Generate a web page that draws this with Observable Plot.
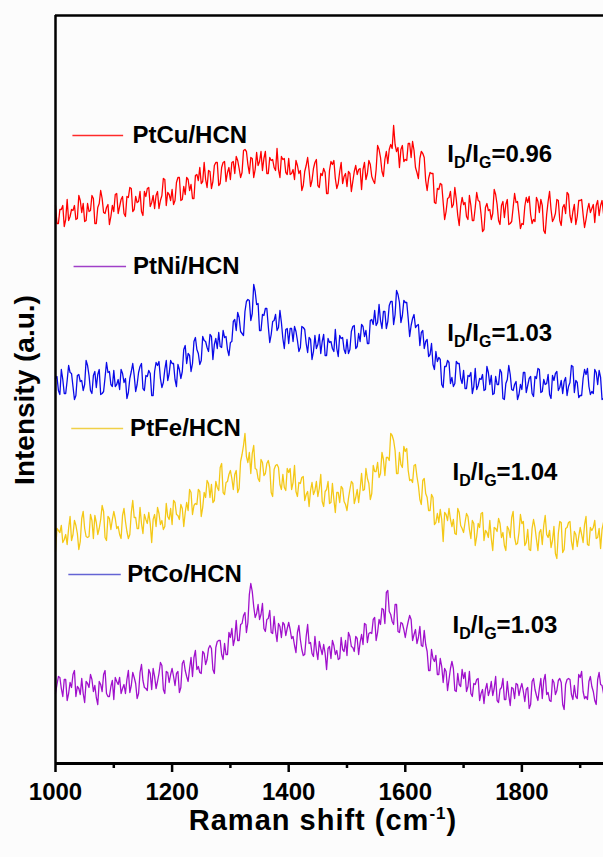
<!DOCTYPE html>
<html>
<head>
<meta charset="utf-8">
<script src="https://cdn.jsdelivr.net/npm/d3@7"></script>
<script src="https://cdn.jsdelivr.net/npm/@observablehq/plot@0.6"></script>
<style>
  html, body { margin: 0; padding: 0; background: #fcfcfc; }
  #chart svg { display: block; }
</style>
</head>
<body>
<div id="chart"></div>
<script>
// Raman spectra, sampled every 2.5 cm-1 from 1000 cm-1 (intensity in a.u., before stacking)
const shiftStart = 1000;
const shiftStep = 2.5;

const ptCu = [
  28,10,10,24,24,28,7,14,34,13,17,24,23,28,14,15,38,33,21,30,12,13,30,22,23,38,35,10,10,26,30,43,35,21,20,26,29,9,17,28,
  22,39,40,20,27,34,37,20,17,37,36,46,45,22,24,37,31,32,42,22,18,42,37,45,46,27,31,38,25,38,42,25,33,38,55,54,28,41,39,33,
  44,29,33,51,56,56,33,34,47,39,56,54,43,49,35,35,58,59,53,66,50,52,71,54,46,63,62,45,52,68,71,71,48,50,66,71,72,52,61,66,
  54,71,72,60,77,73,65,56,61,83,84,82,69,60,76,75,56,64,81,68,72,82,63,75,82,60,60,76,73,74,66,63,85,64,56,77,74,75,61,59,
  75,59,60,64,54,73,68,60,63,43,48,62,68,76,63,47,53,65,71,74,48,46,60,58,65,61,40,40,63,72,69,73,55,45,50,62,71,50,57,60,
  47,62,60,42,52,62,68,59,64,65,44,64,71,54,60,73,69,57,53,50,64,88,84,76,62,57,74,82,70,84,89,85,108,89,82,86,66,84,88,72,
  74,73,90,90,76,92,83,66,61,55,75,82,80,76,53,43,55,61,60,60,31,30,45,44,50,49,31,14,22,35,36,42,26,29,46,34,18,8,27,36,
  29,31,17,14,38,28,13,13,26,41,33,32,19,2,4,26,30,23,24,14,20,44,39,29,13,9,28,32,16,29,34,9,10,12,26,40,31,32,19,5,
  10,9,27,36,31,37,19,10,14,12,36,32,21,34,28,3,0,19,32,42,24,12,15,20,34,33,13,8,26,29,20,41,39,18,11,22,29,9,17,33,
  33,34,19,6,14,24,30,21,25,29,11,28,33,18,28,33,20
];

const ptNi = [
  24,26,12,8,33,23,9,9,22,37,30,29,16,3,7,27,28,21,22,12,18,42,37,27,12,9,27,31,15,28,33,8,9,11,25,40,30,31,18,16,
  32,16,18,23,13,33,29,20,24,4,10,24,31,39,27,11,18,30,36,39,14,12,27,26,32,29,7,7,31,40,37,41,24,15,20,33,42,22,29,42,
  39,39,23,16,38,33,24,31,53,57,39,49,47,31,39,61,65,53,49,38,42,66,62,61,55,51,68,66,43,58,64,54,70,56,55,72,65,66,53,47,
  60,61,81,83,72,90,85,71,69,67,91,101,103,102,82,89,118,111,98,99,72,72,88,87,94,94,76,60,68,81,82,88,72,75,92,80,64,54,73,74,
  59,74,74,61,76,71,62,51,55,76,75,73,59,50,65,63,43,51,67,54,58,68,49,61,68,47,47,64,60,61,54,51,73,54,46,67,64,65,53,49,
  63,49,53,71,76,77,54,56,69,61,78,76,66,72,59,59,82,83,78,92,77,80,98,82,74,91,91,74,81,97,101,101,78,88,112,108,100,80,87,102,
  100,100,84,66,77,84,88,75,77,78,57,70,72,54,61,63,46,48,59,38,33,51,41,45,43,18,15,36,36,42,40,19,25,16,19,41,39,39,24,19,
  32,14,14,27,26,30,9,16,34,13,17,24,23,28,12,13,36,30,18,27,8,9,26,18,18,33,30,4,3,19,23,37,28,13,12,18,21,3,8,18,
  13,30,30,10,17,24,26,9,6,26,24,34,33,10,11,23,18,19,28,8,4,27,22,29,31,12,15,22,9,21,25,7,16,20,37,36,10,22,20,5,
  7,7,24,33,28,34,16,8,11,9,33,30,18,32,25,3,4
];

const ptFe = [
  6,29,27,25,32,15,18,23,13,29,41,17,23,37,32,24,8,16,39,46,29,21,20,21,43,37,19,42,35,23,29,38,52,46,20,17,41,39,28,38,
  46,39,29,31,23,19,42,49,36,26,19,23,45,57,40,40,29,29,50,34,24,43,38,34,45,34,15,38,43,31,50,44,33,37,28,31,54,41,38,49,
  33,57,55,43,42,38,53,49,31,45,55,47,68,65,43,52,54,53,68,66,41,50,65,60,77,74,60,73,55,57,76,70,67,90,94,65,63,75,76,83,
  87,79,68,83,87,65,69,96,103,112,124,101,95,105,84,104,112,89,88,79,76,98,95,82,84,94,97,90,65,61,88,92,93,90,73,68,83,70,67,89,
  85,89,68,75,92,66,61,75,74,80,81,57,63,66,51,67,75,63,67,76,61,69,83,56,51,66,68,76,54,55,74,58,45,65,65,55,71,69,56,53,
  47,59,68,76,74,54,60,68,55,68,84,67,68,89,79,74,58,64,92,86,86,95,80,84,105,98,82,100,100,97,124,122,117,107,84,84,105,93,90,111,
  106,109,87,77,78,75,92,93,81,72,58,53,77,79,64,60,47,47,63,60,33,35,44,35,48,38,16,45,43,37,49,38,31,38,24,23,49,45,32,29,
  25,35,44,41,28,19,37,34,12,21,34,30,44,45,17,27,25,20,37,19,7,30,29,26,39,34,20,25,12,7,31,28,20,40,46,20,13,14,25,43,
  34,36,12,15,28,8,7,29,38,30,18,7,25,28,13,32,42,23,20,27,10,17,31,4,-1,24,36,35,5,8,29,30,35,36,16,8,26,23,11,21,
  30,23,15,33,41,13,12,30,27,30,37,19,20,29,9,28,35
];

const ptCo = [
  14,23,31,30,19,11,28,28,7,14,25,20,33,37,11,21,19,13,29,14,5,26,24,20,33,28,16,22,10,3,26,23,16,33,37,14,11,11,21,27,
  8,30,26,23,30,14,19,23,14,28,37,15,22,35,30,24,9,14,35,43,27,20,19,17,38,34,18,39,31,19,26,34,45,42,18,14,36,35,25,33,
  39,31,22,34,36,15,20,44,47,37,31,26,39,50,31,50,57,38,41,35,34,56,54,43,48,59,62,59,38,34,60,66,67,67,53,48,64,53,53,75,
  70,79,62,69,87,67,67,83,84,92,95,75,85,113,124,116,101,90,94,103,88,93,104,79,76,88,89,97,75,74,91,76,66,84,81,70,85,83,72,79,
  85,78,69,71,62,55,75,82,68,58,52,53,71,83,64,65,54,51,71,57,48,66,59,53,63,54,38,59,61,49,67,62,53,57,48,49,70,58,56,67,
  52,75,71,61,60,56,71,69,53,65,73,63,84,83,65,74,75,74,88,90,67,75,88,83,99,98,84,115,117,96,93,86,83,103,103,76,75,85,84,78,
  70,79,86,92,88,67,73,78,64,70,81,62,61,77,63,56,37,37,58,49,46,52,33,33,49,41,25,39,36,17,28,39,46,39,17,16,34,23,21,38,
  29,35,16,21,36,14,11,24,23,28,29,7,14,18,4,18,24,12,17,26,12,19,31,7,5,18,20,29,8,8,26,12,2,20,19,9,24,23,12,19,
  24,16,6,18,20,-1,3,26,29,18,12,7,19,29,9,27,33,13,15,7,6,28,25,13,17,27,29,25,3,-2,23,28,29,28,13,8,22,11,9,33,
  30,36,16,9,11,8,26,31,21,16,7,3,28,35,23,22,14
];

// Samples, top to bottom
const samples = ["PtCu/HCN", "PtNi/HCN", "PtFe/HCN", "PtCo/HCN"];
const spectra = [ptCu, ptNi, ptFe, ptCo];
const stackOffsets = [530, 361, 206, 56];
const curveColors = ["#ff0000", "#0a0ae8", "#f4c816", "#a010cc"];
// legend swatches as printed in the figure
const swatchColors = ["#ff2a2a", "#a040c8", "#f0d048", "#6464d4"];
const ratios = ["0.96", "1.03", "1.04", "1.03"];

// annotation anchors, in data units (cm-1, stacked a.u.)
const legendX = [1132, 1133, 1128, 1123];
const legendY = [628, 497, 335, 189];
const swatchX1 = [1029, 1031, 1027, 1022];
const swatchX2 = [1116, 1121, 1116, 1112];
const ratioX = [1673, 1673, 1682, 1682];
const ratioY = [601, 422, 283, 130];

const majorTicks = [1000, 1200, 1400, 1600, 1800];
const minorTicks = [1100, 1300, 1500, 1700, 1900];

const table = spectra.flatMap((values, i) =>
  values.map((v, j) => ({
    sample: samples[i],
    shift: shiftStart + j * shiftStep,
    intensity: v + stackOffsets[i]
  }))
);

const legendRows = samples.map((s, i) => ({
  sample: s, x: legendX[i], y: legendY[i], x1: swatchX1[i], x2: swatchX2[i], swatch: swatchColors[i]
}));

const font = "'Liberation Sans', Arial, sans-serif";

const chart = Plot.plot({
  width: 603,
  height: 857,
  marginTop: 15,
  marginBottom: 94,
  marginLeft: 55,
  marginRight: 0,
  style: { background: "#fcfcfc", fontFamily: font },
  x: { domain: [1000, 1940] },
  y: { domain: [0, 748], axis: null },
  color: { domain: samples, range: curveColors },
  marks: [
    Plot.line(table, { x: "shift", y: "intensity", z: "sample", stroke: "sample", strokeWidth: 1.3 }),
    Plot.link(legendRows, { x1: "x1", x2: "x2", y1: "y", y2: "y", stroke: "swatch", strokeWidth: 1.6 }),
    Plot.text(legendRows, {
      x: "x", y: "y", text: "sample", textAnchor: "start",
      fontSize: 24, fontWeight: "bold", fill: "black"
    }),
    Plot.ruleY([748], { stroke: "black", strokeWidth: 2.5 }),
    Plot.ruleX([1000], { stroke: "black", strokeWidth: 2.5 }),
    Plot.axisX({
      ticks: majorTicks, tickSize: 9, tickPadding: 10, strokeWidth: 2.5,
      tickFormat: d => String(d), fontSize: 24, fontWeight: "bold", fill: "black",
      label: null
    }),
    Plot.axisX({
      ticks: minorTicks, tickSize: 5, strokeWidth: 2.5, tickFormat: () => "", label: null
    }),
    Plot.ruleY([0], { stroke: "black", strokeWidth: 3 })
  ]
});

document.getElementById("chart").appendChild(chart);

const sx = chart.scale("x").apply;
const sy = chart.scale("y").apply;
const svg = d3.select(chart);

// I_D/I_G ratio labels with subscripts
ratios.forEach((r, i) => {
  const t = svg.append("text")
    .attr("x", sx(ratioX[i]))
    .attr("y", sy(ratioY[i]))
    .attr("text-anchor", "start")
    .attr("font-family", font)
    .attr("font-weight", "bold")
    .attr("font-size", 24)
    .attr("fill", "black");
  t.append("tspan").text("I");
  t.append("tspan").attr("font-size", 16).attr("dy", 6).text("D");
  t.append("tspan").attr("dy", -6).text("/I");
  t.append("tspan").attr("font-size", 16).attr("dy", 6).text("G");
  t.append("tspan").attr("dy", -6).text("=" + r);
});

// x-axis title with superscript
const xt = svg.append("text")
  .attr("x", 323)
  .attr("y", 830)
  .attr("text-anchor", "middle")
  .attr("font-family", font)
  .attr("font-weight", "bold")
  .attr("font-size", 29)
  .attr("letter-spacing", 1)
  .attr("fill", "black");
xt.append("tspan").text("Raman shift (cm");
xt.append("tspan").attr("font-size", 17).attr("dy", -11).text("-1");
xt.append("tspan").attr("dy", 11).text(")");

// y-axis title
svg.append("text")
  .attr("transform", "translate(34,390) rotate(-90)")
  .attr("text-anchor", "middle")
  .attr("font-family", font)
  .attr("font-weight", "bold")
  .attr("font-size", 28)
  .attr("fill", "black")
  .text("Intensity (a.u.)");
</script>
</body>
</html>
